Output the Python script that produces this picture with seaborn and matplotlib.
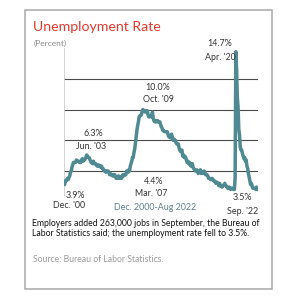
import matplotlib
matplotlib.use("Agg")
import matplotlib.pyplot as plt
import seaborn as sns
import numpy as np
import pandas as pd
from matplotlib.patches import Rectangle

# Monthly unemployment rate (%), Dec 2000 - Sep 2022
u2000 = [3.9]
u2001 = [4.2, 4.2, 4.3, 4.4, 4.3, 4.5, 4.6, 4.9, 5.0, 5.3, 5.5, 5.7]
u2002 = [5.7, 5.7, 5.7, 5.9, 5.8, 5.8, 5.8, 5.7, 5.7, 5.7, 5.9, 6.0]
u2003 = [5.8, 5.9, 5.9, 6.0, 6.1, 6.3, 6.2, 6.1, 6.1, 6.0, 5.8, 5.7]
u2004 = [5.7, 5.6, 5.8, 5.6, 5.6, 5.6, 5.5, 5.4, 5.4, 5.5, 5.4, 5.4]
u2005 = [5.3, 5.4, 5.2, 5.2, 5.1, 5.0, 5.0, 4.9, 5.0, 5.0, 5.0, 4.9]
u2006 = [4.7, 4.8, 4.7, 4.7, 4.6, 4.6, 4.7, 4.7, 4.5, 4.4, 4.5, 4.4]
u2007 = [4.6, 4.5, 4.4, 4.5, 4.4, 4.6, 4.7, 4.6, 4.7, 4.7, 4.7, 5.0]
u2008 = [5.0, 4.9, 5.1, 5.0, 5.4, 5.6, 5.8, 6.1, 6.1, 6.5, 6.8, 7.3]
u2009 = [7.8, 8.3, 8.7, 9.0, 9.4, 9.5, 9.5, 9.6, 9.8, 10.0, 9.9, 9.9]
u2010 = [9.8, 9.8, 9.9, 9.9, 9.6, 9.4, 9.4, 9.5, 9.5, 9.4, 9.8, 9.3]
u2011 = [9.1, 9.0, 9.0, 9.1, 9.0, 9.1, 9.0, 9.0, 9.0, 8.8, 8.6, 8.5]
u2012 = [8.3, 8.3, 8.2, 8.2, 8.2, 8.2, 8.2, 8.0, 7.8, 7.8, 7.7, 7.9]
u2013 = [8.0, 7.7, 7.5, 7.6, 7.5, 7.5, 7.3, 7.2, 7.2, 7.2, 6.9, 6.7]
u2014 = [6.6, 6.7, 6.7, 6.2, 6.3, 6.1, 6.2, 6.1, 5.9, 5.7, 5.8, 5.6]
u2015 = [5.7, 5.5, 5.4, 5.4, 5.6, 5.3, 5.2, 5.1, 5.0, 5.0, 5.1, 5.0]
u2016 = [4.8, 4.9, 5.0, 5.1, 4.8, 4.9, 4.8, 4.9, 5.0, 4.9, 4.7, 4.7]
u2017 = [4.7, 4.6, 4.4, 4.4, 4.4, 4.3, 4.3, 4.4, 4.3, 4.2, 4.2, 4.1]
u2018 = [4.0, 4.1, 4.0, 4.0, 3.8, 4.0, 3.8, 3.8, 3.7, 3.8, 3.8, 3.9]
u2019 = [4.0, 3.8, 3.8, 3.7, 3.6, 3.6, 3.7, 3.6, 3.5, 3.6, 3.6, 3.6]
u2020 = [3.5, 3.5, 4.4, 14.7, 13.2, 11.0, 10.2, 8.4, 7.9, 6.9, 6.7, 6.7]
u2021 = [6.4, 6.2, 6.0, 6.1, 5.8, 5.9, 5.4, 5.2, 4.8, 4.5, 4.2, 3.9]
u2022 = [4.0, 3.8, 3.6, 3.6, 3.6, 3.6, 3.5, 3.7, 3.5]

rate = (u2000 + u2001 + u2002 + u2003 + u2004 + u2005 + u2006 + u2007 + u2008
        + u2009 + u2010 + u2011 + u2012 + u2013 + u2014 + u2015 + u2016
        + u2017 + u2018 + u2019 + u2020 + u2021 + u2022)
dates = pd.date_range("2000-12-01", periods=len(rate), freq="MS")
df = pd.DataFrame({"t": dates.year + (dates.month - 1) / 12.0, "rate": rate})

title = "Unemployment Rate"
unit_label = "(Percent)"
caption1 = "Employers added 263,000 jobs in September, the Bureau of"
caption2 = "Labor Statistics said; the unemployment rate fell to 3.5%."
source = "Source: Bureau of Labor Statistics."
period = "Dec. 2000-Aug 2022"

sns.set_style("white")
plt.rcParams["font.family"] = ["Lato", "DejaVu Sans"]

W, H = 299, 302
fig = plt.figure(figsize=(W / 100, H / 100), dpi=100)
fig.patch.set_facecolor("white")

def fx(px):
    return px / W

def fy(py):
    return 1 - py / H

ax = fig.add_axes([fx(64), fy(195), fx(258) - fx(64), fy(48) - fy(195)])
ax.set_facecolor("white")

for g in [5, 7.5, 10, 12.5]:
    ax.axhline(g, color="#4a4a4a", lw=0.8, zorder=1)

sns.lineplot(data=df, x="t", y="rate", ax=ax, color="#4f8a92", lw=2.5,
             zorder=3, solid_joinstyle="round")

ax.set_xlim(2000.85, 2022.75)
ax.set_ylim(3.05, 15.0)
ax.set_xticks([])
ax.set_yticks([])
ax.set_xlabel("")
ax.set_ylabel("")
for s in ["top", "right", "bottom"]:
    ax.spines[s].set_visible(False)
ax.spines["left"].set_color("#cfcfcf")
ax.spines["left"].set_linewidth(0.6)

# Frame
fig.patches.append(Rectangle((fx(24.5), fy(288.5)), fx(272) - fx(24.5), fy(9.5) - fy(288.5),
                             transform=fig.transFigure, fill=False,
                             edgecolor="#a8a8a8", lw=1.1, zorder=0))

fig.text(fx(33), fy(27), title, color="#e03a2e", fontsize=10.2, va="center", ha="left")
fig.text(fx(34), fy(43), unit_label, color="#8a8a8a", fontsize=6.0, va="center", ha="left")

lab = dict(fontsize=6.4, color="#333333", va="center", ha="center")
fig.text(fx(220), fy(44), "14.7%", **lab)
fig.text(fx(220), fy(57), "Apr. '20", **lab)
fig.text(fx(158), fy(88), "10.0%", **lab)
fig.text(fx(158), fy(100), "Oct. '09", **lab)
fig.text(fx(93), fy(134), "6.3%", **lab)
fig.text(fx(91), fy(147), "Jun. '03", **lab)
fig.text(fx(75), fy(195), "3.9%", **lab)
fig.text(fx(69), fy(205), "Dec. '00", **lab)
fig.text(fx(154), fy(182), "4.4%", **lab)
fig.text(fx(151), fy(193), "Mar. '07", **lab)
fig.text(fx(242), fy(198), "3.5%", **lab)
fig.text(fx(243), fy(212), "Sep. '22", **lab)
fig.text(fx(155), fy(207), period, fontsize=6.4, color="#5f7f88", va="center", ha="center")

fig.text(fx(32), fy(224), caption1, fontsize=6.25, color="#111111", va="center", ha="left")
fig.text(fx(32), fy(234), caption2, fontsize=6.25, color="#111111", va="center", ha="left")
fig.text(fx(33), fy(260), source, fontsize=6.2, color="#9a9a9a", va="center", ha="left")

fig.savefig("out.png", dpi=100, facecolor="white")
